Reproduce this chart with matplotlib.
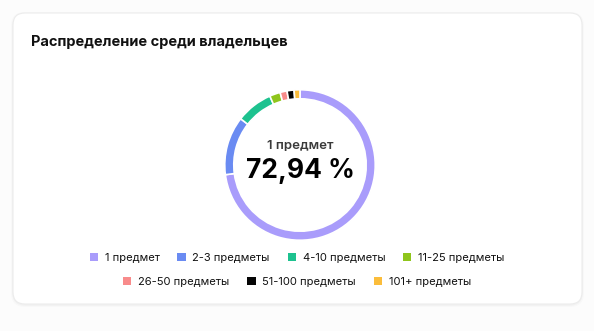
import matplotlib
matplotlib.use('Agg')
import matplotlib.pyplot as plt
from matplotlib.patches import FancyBboxPatch

plt.rcParams['font.family'] = ['Inter', 'DejaVu Sans']

# data
labels = ['1 предмет', '2-3 предметы', '4-10 предметы', '11-25 предметы',
          '26-50 предметы', '51-100 предметы', '101+ предметы']
shares = [72.94, 12.6, 7.9, 2.3, 1.5, 1.5, 1.26]
colors = ['#a99cfb', '#6a8bf2', '#1dc28f', '#8fc51c', '#f88b8b', '#050505', '#fbbd3b']
title = 'Распределение среди владельцев'
center_label = '1 предмет'
center_value = '72,94 %'

W, H = 594, 331
fig = plt.figure(figsize=(W / 100, H / 100), dpi=100)
fig.patch.set_facecolor('#fcfcfc')

# card background
card_ax = fig.add_axes([0, 0, 1, 1])
card_ax.set_xlim(0, W)
card_ax.set_ylim(H, 0)
card_ax.axis('off')
for off, a in [(2, 0.015), (1, 0.025)]:
    card_ax.add_patch(FancyBboxPatch((13 - off, 13 - off + 1), 569 + 2 * off, 291 + 2 * off,
                                     boxstyle='round,pad=0,rounding_size=14',
                                     facecolor='black', edgecolor='none', alpha=a))
card_ax.add_patch(FancyBboxPatch((13, 13), 569, 291,
                                 boxstyle='round,pad=0,rounding_size=12',
                                 facecolor='white', edgecolor='#ececec', linewidth=0.8))
card_ax.text(31, 42, title, fontsize=10.5, fontweight='bold', color='#111111',
             va='center', ha='left')

# donut
r = 76
cx, cy = 300, 165
ax = fig.add_axes([(cx - r) / W, 1 - (cy + r) / H, 2 * r / W, 2 * r / H])
wedges, _ = ax.pie(shares, colors=colors, startangle=90, counterclock=False,
                   radius=1.0,
                   wedgeprops=dict(width=0.12, edgecolor='white', linewidth=1.2))
ax.set_xlim(-1.01, 1.01)
ax.set_ylim(-1.01, 1.01)
ax.set_aspect('equal')
ax.text(0, 0.25, center_label, ha='center', va='center', fontsize=9.5,
        fontweight='semibold', color='#3a3a3a')
ax.text(0, -0.08, center_value, ha='center', va='center', fontsize=19,
        fontweight='bold', color='#000000')

# legend in two centered rows
leg_kw = dict(frameon=False, fontsize=8, handlelength=0.75, handleheight=0.75,
              handletextpad=0.6, columnspacing=1.6, borderaxespad=0)
leg1 = fig.legend(wedges[:4], labels[:4], loc='center', ncol=4,
                  bbox_to_anchor=(0.5, 1 - 258 / H), **leg_kw)
leg2 = fig.legend(wedges[4:], labels[4:], loc='center', ncol=3,
                  bbox_to_anchor=(0.5, 1 - 282 / H), **leg_kw)
for leg in (leg1, leg2):
    for t in leg.get_texts():
        t.set_color('#111111')
    for h in leg.legend_handles:
        h.set_edgecolor('none')

fig.savefig('out.png', dpi=100)
